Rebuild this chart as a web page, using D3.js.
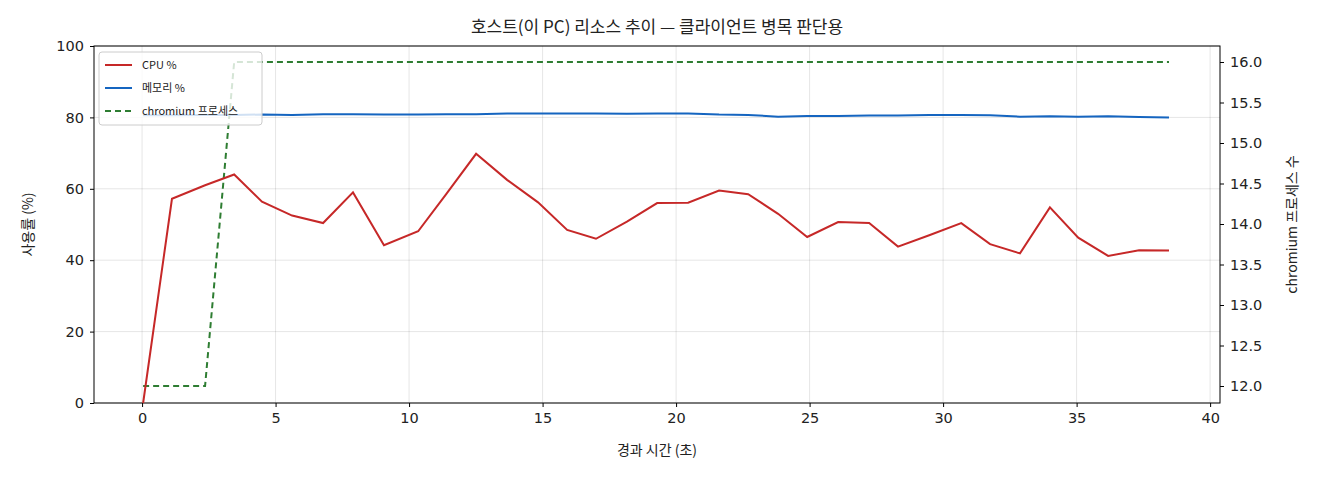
<!DOCTYPE html>
<html><head><meta charset="utf-8">
<script src="https://cdn.jsdelivr.net/npm/d3@7"></script>
<style>
body{margin:0;background:#fff;font-family:"Noto Sans CJK KR","DejaVu Sans",sans-serif}
text{fill:#222}
</style></head><body>
<svg id="chart" width="1320" height="480"></svg>
<script>
const times = [0.04,1.12,2.36,3.45,4.49,5.62,6.78,7.9,9.06,10.34,11.39,12.51,13.67,14.83,15.92,17.0,18.16,19.29,20.45,21.61,22.7,23.82,24.91,26.07,27.23,28.31,29.48,30.68,31.76,32.88,34.0,35.06,36.18,37.34,38.46];
const cpu = [0,57.2,61,64,56.4,52.5,50.4,59,44.2,48.1,58.5,69.8,62.5,56.2,48.5,46,50.8,56,56.1,59.5,58.5,53,46.5,50.7,50.4,43.8,47,50.4,44.5,41.9,54.8,46.3,41.2,42.8,42.7];
const mem = [80.6,80.6,80.7,80.7,80.8,80.7,80.9,80.9,80.8,80.8,80.9,80.9,81.1,81.1,81.1,81.1,81.0,81.1,81.1,80.8,80.7,80.2,80.4,80.4,80.5,80.5,80.7,80.7,80.6,80.2,80.3,80.2,80.3,80.1,80.0];
const procs = [12,12,12,16,16,16,16,16,16,16,16,16,16,16,16,16,16,16,16,16,16,16,16,16,16,16,16,16,16,16,16,16,16,16,16];
const xTicks = [0,5,10,15,20,25,30,35,40];
const yTicks = [0,20,40,60,80,100];
const y2Ticks = [12,12.5,13,13.5,14,14.5,15,15.5,16];

const svg = d3.select("#chart");
const L = 94, R = 1220, T = 46, B = 403;
const x = d3.scaleLinear().domain([-1.80, 40.37]).range([L, R]);
const y = d3.scaleLinear().domain([0, 100]).range([B, T]);
const y2 = d3.scaleLinear().domain([12 - 17/81, 16 + 16/81]).range([B, T]);

// grid
svg.append("g").selectAll("line").data(xTicks).enter().append("line")
  .attr("x1", d => x(d)).attr("x2", d => x(d)).attr("y1", T).attr("y2", B)
  .attr("stroke", "#000").attr("stroke-opacity", 0.1);
svg.append("g").selectAll("line").data(yTicks).enter().append("line")
  .attr("x1", L).attr("x2", R).attr("y1", d => y(d)).attr("y2", d => y(d))
  .attr("stroke", "#000").attr("stroke-opacity", 0.1);

// axes
const ax = svg.append("g").attr("transform", `translate(0,${B})`)
  .call(d3.axisBottom(x).tickValues(xTicks).tickSize(4).tickPadding(6));
const ay = svg.append("g").attr("transform", `translate(${L},0)`)
  .call(d3.axisLeft(y).tickValues(yTicks).tickSize(4).tickPadding(6));
const ay2 = svg.append("g").attr("transform", `translate(${R},0)`)
  .call(d3.axisRight(y2).tickValues(y2Ticks).tickFormat(d3.format(".1f")).tickSize(4).tickPadding(6));
[ax, ay, ay2].forEach(g => {
  g.select(".domain").remove();
  g.selectAll("text").attr("font-size", 14.5).attr("font-family", "'DejaVu Sans',sans-serif").style("fill", "#222");
});
svg.append("rect").attr("x", L).attr("y", T).attr("width", R - L).attr("height", B - T)
  .attr("fill", "none").attr("stroke", "#000").attr("stroke-width", 1);

// lines
const lineL = (vals, sc) => d3.line().x((d, i) => x(times[i])).y(d => sc(d))(vals);
svg.append("path").attr("d", lineL(procs, y2)).attr("fill", "none")
  .attr("stroke", "#2e7d32").attr("stroke-width", 2).attr("stroke-dasharray", "6,4");
svg.append("path").attr("d", lineL(mem, y)).attr("fill", "none")
  .attr("stroke", "#1565c0").attr("stroke-width", 2);
svg.append("path").attr("d", lineL(cpu, y)).attr("fill", "none")
  .attr("stroke", "#c62828").attr("stroke-width", 2);

// texts
svg.append("text").attr("x", (L + R) / 2).attr("y", 33).attr("text-anchor", "middle")
  .attr("font-size", 17).text("호스트(이 PC) 리소스 추이 — 클라이언트 병목 판단용");
svg.append("text").attr("x", (L + R) / 2).attr("y", 455).attr("text-anchor", "middle")
  .attr("font-size", 14).text("경과 시간 (초)");
svg.append("text").attr("transform", `translate(33,${(T + B) / 2}) rotate(-90)`).attr("text-anchor", "middle")
  .attr("font-size", 14).text("사용률 (%)");
svg.append("text").attr("transform", `translate(1297,${(T + B) / 2}) rotate(-90)`).attr("text-anchor", "middle")
  .attr("font-size", 14).text("chromium 프로세스 수");

// legend
const leg = svg.append("g").attr("transform", "translate(99,52)");
leg.append("rect").attr("width", 163).attr("height", 73).attr("rx", 3)
  .attr("fill", "#fff").attr("fill-opacity", 0.8).attr("stroke", "#ccc");
const items = [["CPU %", "#c62828", null], ["메모리 %", "#1565c0", null], ["chromium 프로세스", "#2e7d32", "6,4"]];
items.forEach((it, i) => {
  const yy = 13 + i * 23;
  leg.append("line").attr("x1", 6).attr("x2", 33).attr("y1", yy).attr("y2", yy)
    .attr("stroke", it[1]).attr("stroke-width", 2).attr("stroke-dasharray", it[2]);
  leg.append("text").attr("x", 43).attr("y", yy + 4).attr("font-size", 11).text(it[0]);
});
</script></body></html>
